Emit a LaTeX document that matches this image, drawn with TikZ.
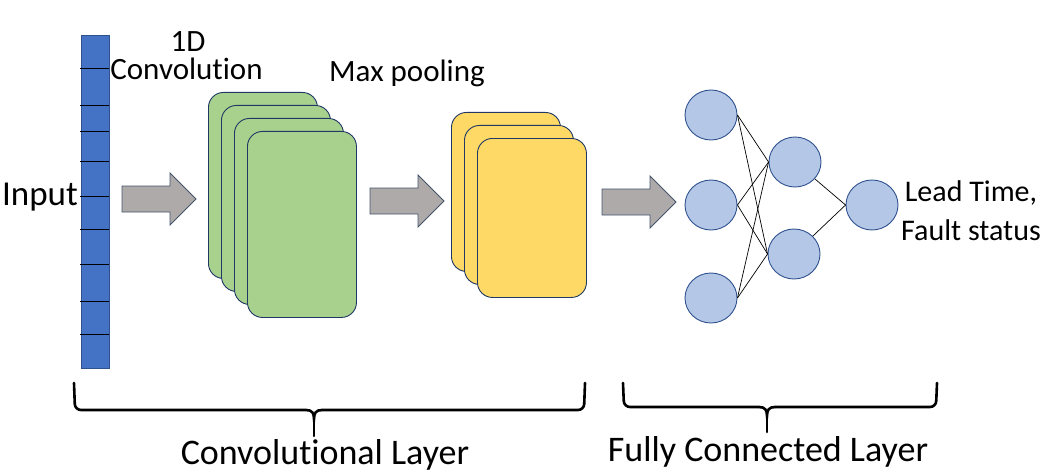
\documentclass[tikz,border=0pt]{standalone}
\usepackage{fontspec}
\setmainfont{Carlito}[Ligatures={NoCommon,NoContextual}]
\usetikzlibrary{shapes.geometric}
\definecolor{barblue}{HTML}{4472C4}
\definecolor{barborder}{HTML}{2F528F}
\definecolor{greenfill}{HTML}{A9D18E}
\definecolor{yellowfill}{HTML}{FFD966}
\definecolor{navy}{HTML}{1F3864}
\definecolor{arrowfill}{HTML}{AEAAAA}
\definecolor{arrowborder}{HTML}{44546A}
\definecolor{neuronfill}{HTML}{B4C7E7}
\definecolor{neuronborder}{HTML}{2F528F}
\tikzset{
  lbl/.style={inner sep=0pt, anchor=base, font=\fontsize{31pt}{37pt}\selectfont},
  biglbl/.style={inner sep=0pt, anchor=base, font=\fontsize{36pt}{43pt}\selectfont},
  inputbar/.style={draw=barborder, fill=barblue, line width=0.8pt, inner sep=0pt,
    minimum width=28pt, minimum height=333pt, anchor=north west},
  tickline/.style={draw=black, line width=0.9pt},
  greenbox/.style={draw=navy, fill=greenfill, rounded corners=15pt, line width=0.9pt,
    inner sep=0pt, minimum width=109pt, minimum height=186pt, anchor=north west},
  yellowbox/.style={draw=navy, fill=yellowfill, rounded corners=15pt, line width=0.9pt,
    inner sep=0pt, minimum width=109pt, minimum height=159pt, anchor=north west},
  arrowshape/.style={draw=arrowborder, fill=arrowfill, line width=0.9pt, line join=miter},
  blockarrow/.pic={\path[arrowshape] (0,-13) -- (48,-13) -- (48,-26) -- (74,0) -- (48,26) -- (48,13) -- (0,13) -- cycle;},
  neuron/.style={ellipse, draw=neuronborder, fill=neuronfill, line width=0.9pt,
    minimum width=52pt, minimum height=50pt, inner sep=0pt},
  link/.style={draw=black, line width=0.7pt},
  bracestyle/.style={draw=black, line width=2.6pt, rounded corners=6pt, line cap=round},
}
\begin{document}
\begin{tikzpicture}[x=1pt,y=-1pt]
\useasboundingbox (0,0) rectangle (1046,476);

% input vector
\node[inputbar] (bar) at (81,35) {};
\foreach \yy in {68.3,105.3,131.3,161.3,196,229.3,264.3,301.7,334.3}
  \draw[tickline] (80,\yy) -- (109,\yy);
\node[biglbl, font=\fontsize{35pt}{42pt}\selectfont] (input) at (40,205) {Input};

% labels
\node[lbl] (oned) at (188,51.7) {1D};
\node[lbl] (conv) at (186.5,80) {Convolution};
\node[lbl] (maxp) at (407,81.7) {Max pooling};

% arrows
\pic at (122,199) {blockarrow};
\pic at (370,201) {blockarrow};
\pic at (602,202) {blockarrow};

% feature maps
\node[greenbox] (g1) at (208,92) {};
\node[greenbox] (g2) at (221,105) {};
\node[greenbox] (g3) at (234,118) {};
\node[greenbox] (g4) at (247,131) {};

\node[yellowbox] (y1) at (451,112) {};
\node[yellowbox] (y2) at (464,125) {};
\node[yellowbox] (y3) at (477,138) {};

% fully connected network
\node[neuron] (c1) at (711,115) {};
\node[neuron] (c2) at (711,205) {};
\node[neuron] (c3) at (711,298) {};
\node[neuron] (h1) at (795,162) {};
\node[neuron] (h2) at (794,254) {};
\node[neuron] (o) at (872,205) {};

\foreach \s in {c1,c2,c3}
  \foreach \t in {h1,h2}
    \draw[link] (\s.east) -- (\t.west);
\draw[link] (h1) -- (o.west);
\draw[link] (h2) -- (o.west);

\node[lbl, font=\fontsize{30pt}{36pt}\selectfont] (lead) at (971,201.7) {Lead Time,};
\node[lbl, font=\fontsize{30pt}{36pt}\selectfont] (fault) at (971,240) {Fault status};

% braces
\draw[bracestyle] (74,383) -- (75,410) -- (306,410);
\draw[bracestyle, rounded corners=0pt] (306,410) .. controls (312,410) and (314,413) .. (314,419) .. controls (314,413) and (316,410) .. (322,410);
\draw[bracestyle] (322,410) -- (584,410) -- (585,383);
\draw[bracestyle] (314,418) -- (314,436);
\node[biglbl] (convlayer) at (325,464) {Convolutional Layer};

\draw[bracestyle] (623,383) -- (624,407) -- (759,407);
\draw[bracestyle, rounded corners=0pt] (759,407) .. controls (765,407) and (767,410) .. (767,416) .. controls (767,410) and (769,407) .. (775,407);
\draw[bracestyle] (775,407) -- (936,407) -- (937,383);
\draw[bracestyle] (767,415) -- (767,432);
\node[biglbl] (fclayer) at (768,461) {Fully Connected Layer};
\end{tikzpicture}
\end{document}
